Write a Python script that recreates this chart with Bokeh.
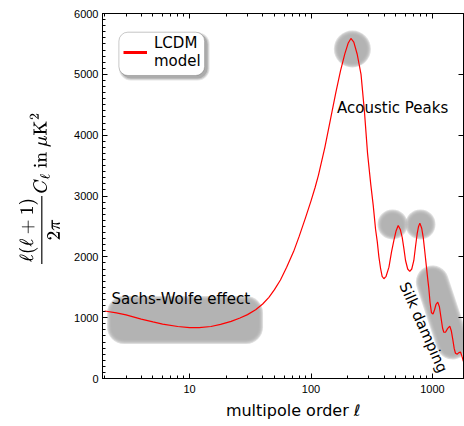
from math import log10

from bokeh.plotting import figure
from bokeh.models import (BoxAnnotation, Label, Legend, LegendItem, LogAxis, LinearAxis,
                          FixedTicker, SingleIntervalTicker, PrintfTickFormatter,
                          CustomJSTickFormatter)
from bokeh.embed import file_html
from bokeh.resources import INLINE

# LCDM angular power spectrum, D_l = l(l+1)C_l / 2pi in muK^2
ell = [2, 2.5, 3, 4, 5, 6, 8, 10, 12, 15, 18, 22, 26, 30, 35, 40, 45, 50, 56, 63,
       72, 80, 90, 100, 108, 115, 130, 145, 160, 175, 190, 202, 213, 225, 240, 258,
       275, 292, 310, 325, 340, 351, 362, 373, 385, 398, 415, 438, 460, 481, 502,
       522, 543, 563, 582, 600, 625, 650, 675, 702, 725, 748, 768, 787, 815, 839,
       865, 892, 912, 933, 955, 981, 1010, 1040, 1070, 1105, 1140, 1175, 1210,
       1239, 1280, 1330, 1388, 1430, 1470, 1510, 1546, 1600, 1650, 1700, 1740,
       1790, 1830]
d_ell = [1110, 1080, 1045, 975, 930, 895, 855, 835, 835, 855, 890, 940, 995, 1050,
         1130, 1225, 1335, 1460, 1620, 1830, 2090, 2340, 2640, 2920, 3140, 3340,
         3800, 4270, 4700, 5060, 5340, 5510, 5590, 5530, 5330, 5000, 4400, 3700,
         3200, 2850, 2450, 2250, 2000, 1820, 1680, 1640, 1680, 1830, 2080, 2270,
         2430, 2516, 2450, 2320, 2130, 1940, 1800, 1760, 1800, 1940, 2170, 2380,
         2500, 2554, 2470, 2320, 2080, 1830, 1650, 1480, 1250, 1080, 1060, 1130,
         1220, 1255, 1180, 1000, 830, 760, 760, 820, 860, 780, 640, 490, 415, 400,
         425, 435, 380, 290, 240]

x_major = [10, 100, 1000]
x_minor = [2, 3, 4, 5, 6, 7, 8, 9, 20, 30, 40, 50, 60, 70, 80, 90,
           200, 300, 400, 500, 600, 700, 800, 900]
y_major = [0, 1000, 2000, 3000, 4000, 5000, 6000]

X_RANGE = (1.92, 1800)
Y_RANGE = (0, 6000)
W, H = 464, 426
B_LEFT, B_RIGHT, B_TOP, B_BOTTOM = 102, 1, 13, 48
FW = W - B_LEFT - B_RIGHT
FH = H - B_TOP - B_BOTTOM
LX0, LX1 = log10(X_RANGE[0]), log10(X_RANGE[1])


def shift_x(x, px):
    """Move a multipole value by px screen pixels along the log axis."""
    return x * 10 ** (px * (LX1 - LX0) / FW)


def shift_y(y, px):
    """Move a power value by px screen pixels upwards."""
    return y + px * (Y_RANGE[1] - Y_RANGE[0]) / FH


p = figure(width=W, height=H, x_axis_type="log", x_range=X_RANGE, y_range=Y_RANGE,
           output_backend="svg", toolbar_location=None,
           min_border_left=B_LEFT, min_border_right=B_RIGHT,
           min_border_top=B_TOP, min_border_bottom=B_BOTTOM)
p.background_fill_color = "white"
p.border_fill_color = "white"
p.outline_line_color = "black"
p.outline_line_width = 1
p.grid.visible = False

# soft grey highlight shapes (stacked translucent layers give a blurred rim)
GRAY = "#adadad"
BLUR = [-4, -2, 0, 2, 4]
ALPHA = 0.42


def soft_box(xc, yc, w, h, r):
    for d in BLUR:
        ww, hh = w + d, h + d
        p.add_layout(BoxAnnotation(left=shift_x(xc, -ww / 2), right=shift_x(xc, ww / 2),
                                   bottom=shift_y(yc, -hh / 2), top=shift_y(yc, hh / 2),
                                   border_radius=int(max(r + d // 2, 0)), fill_color=GRAY,
                                   fill_alpha=ALPHA, line_color=None, level="underlay"))


def soft_dot(xc, yc, diameter):
    for d in BLUR:
        p.scatter([xc], [yc], size=diameter + d, marker="circle", fill_color=GRAY,
                  fill_alpha=ALPHA, line_color=None, level="underlay")


def soft_capsule(x0, y0, x1, y1, width):
    for d in BLUR:
        p.line([x0, x1], [y0, y1], line_width=width + d, line_cap="round",
               line_color=GRAY, line_alpha=ALPHA, level="underlay")


soft_box(9.18, 962, 152, 44, 15)
soft_dot(219, 5416, 33)
soft_dot(469, 2533, 26)
soft_dot(796, 2533, 26)
soft_capsule(998, 1585, 1464, 585, 29)

# the model curve
p.line(ell, d_ell, line_color="red", line_width=1.2)

# annotations
TXT = dict(text_font="DejaVu Sans", text_font_size="15px", text_color="black")
p.add_layout(Label(x=2.28, y=1310, text="Sachs-Wolfe effect", text_baseline="alphabetic", **TXT))
p.add_layout(Label(x=163.7, y=4450, text="Acoustic Peaks", text_baseline="alphabetic", **TXT))
p.add_layout(Label(x=843, y=839, text="Silk damping", angle=-66, angle_units="deg",
                   text_align="center", text_baseline="middle", **TXT))

# legend frame with a soft drop shadow
LEG_L, LEG_R, LEG_B, LEG_T = 2.62, 13.3, 4981, 5693
for d, a in [(3, 0.10), (2, 0.12), (1, 0.14)]:
    p.add_layout(BoxAnnotation(left=shift_x(LEG_L, 3 - d), right=shift_x(LEG_R, 2 + d),
                               bottom=shift_y(LEG_B, -2 - d), top=shift_y(LEG_T, -3 + d),
                               border_radius=9 + d, fill_color="black", fill_alpha=a,
                               line_color=None))
p.add_layout(BoxAnnotation(left=LEG_L, right=LEG_R, bottom=LEG_B, top=LEG_T,
                           border_radius=9, fill_color="white", fill_alpha=1,
                           line_color="#4d4d4d", line_width=1))

key = p.line(x=[1], y=[1], line_color="red", line_width=3, visible=False)
legend = Legend(items=[LegendItem(label="LCDM\nmodel", renderers=[key])],
                location=(21, 308), padding=0, margin=0, spacing=0,
                glyph_width=24, glyph_height=20, label_standoff=7,
                label_text_font="DejaVu Sans", label_text_font_size="15px",
                label_text_line_height=1.1, label_text_color="black",
                border_line_color=None, background_fill_alpha=0, inactive_fill_alpha=0)
p.add_layout(legend)

# axes: ticks pointing inwards on all four sides
xa = p.xaxis[0]
ya = p.yaxis[0]
xa.ticker = FixedTicker(ticks=x_major, minor_ticks=x_minor)
xa.formatter = PrintfTickFormatter(format="%d")
ya.ticker = SingleIntervalTicker(interval=1000, num_minor_ticks=10)

blank = CustomJSTickFormatter(code="return ''")
top = LogAxis(ticker=FixedTicker(ticks=x_major, minor_ticks=x_minor), formatter=blank,
              major_label_text_font_size="1px", major_label_standoff=0)
right = LinearAxis(ticker=FixedTicker(ticks=y_major), formatter=blank,
                   major_label_text_font_size="1px", major_label_standoff=0,
                   minor_tick_line_color=None)
p.add_layout(top, "above")
p.add_layout(right, "right")

for ax in (xa, ya, top, right):
    ax.axis_line_color = "black"
    ax.major_tick_in = 5
    ax.major_tick_out = 0
    ax.minor_tick_in = 3
    ax.minor_tick_out = 0
    ax.major_tick_line_color = "black"
    ax.major_label_text_font = "Liberation Sans"
    ax.major_label_text_color = "black"

xa.major_label_text_font_size = "11px"
ya.major_label_text_font_size = "11px"
xa.major_label_standoff = 6
ya.major_label_standoff = 4

xa.axis_label = "\u00a0\u00a0\u00a0\u00a0multipole order ℓ"
xa.axis_label_text_font = "DejaVu Sans"
xa.axis_label_text_font_size = "16px"
xa.axis_label_text_font_style = "normal"
xa.axis_label_text_color = "black"
xa.axis_label_standoff = 5

ya.axis_label = (r"$$\small\hspace{0.7em}\frac{\ell(\ell+1)}{2\pi}C_\ell\ "
                 r"\text{in}\ \mu\mathrm{K}^2$$")
ya.axis_label_text_font_size = "19px"
ya.axis_label_text_font_style = "normal"
ya.axis_label_text_color = "black"
ya.axis_label_standoff = 11

open("out.html", "w").write(file_html(p, INLINE))
